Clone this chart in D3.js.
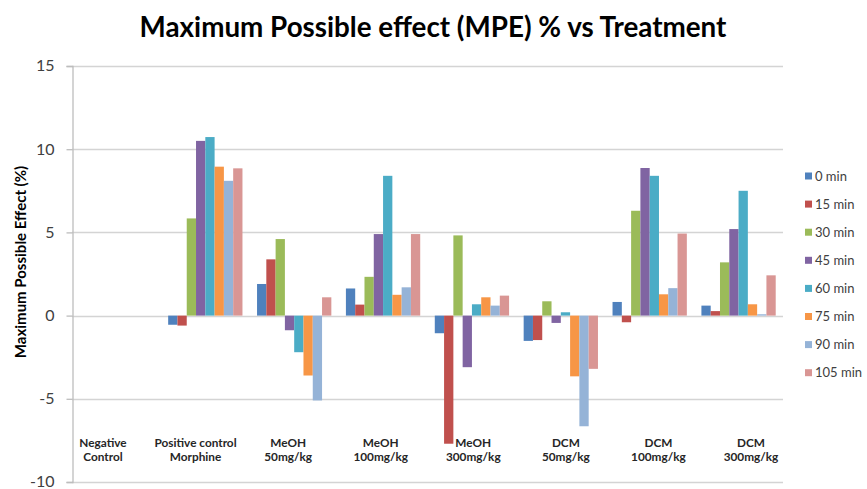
<!DOCTYPE html>
<html>
<head>
<meta charset="utf-8">
<script src="https://cdn.jsdelivr.net/npm/d3@7"></script>
<style>
  html, body { margin: 0; padding: 0; background: #fff; }
  svg { display: block; font-family: Lato, "Open Sans", sans-serif; }
</style>
</head>
<body>
<svg id="chart" width="867" height="489"></svg>
<script>
// ---- data ----
const categories = [
  ["Negative", "Control"],
  ["Positive control", "Morphine"],
  ["MeOH", "50mg/kg"],
  ["MeOH", "100mg/kg"],
  ["MeOH", "300mg/kg"],
  ["DCM", "50mg/kg"],
  ["DCM", "100mg/kg"],
  ["DCM", "300mg/kg"]
];
const seriesNames = ["0 min", "15 min", "30  min", "45 min", "60 min", "75 min", "90 min", "105 min"];
const min0   = [0, -0.55, 1.9, 1.63, -1.06, -1.52, 0.82, 0.6];
const min15  = [0, -0.6, 3.38, 0.66, -7.7, -1.47, -0.4, 0.27];
const min30  = [0, 5.84, 4.6, 2.33, 4.82, 0.86, 6.3, 3.2];
const min45  = [0, 10.5, -0.88, 4.9, -3.1, -0.44, 8.87, 5.2];
const min60  = [0, 10.73, -2.2, 8.4, 0.68, 0.2, 8.4, 7.5];
const min75  = [0, 8.95, -3.6, 1.25, 1.1, -3.65, 1.28, 0.68];
const min90  = [0, 8.1, -5.1, 1.7, 0.6, -6.65, 1.65, 0.08];
const min105 = [0, 8.85, 1.1, 4.9, 1.2, -3.2, 4.93, 2.42];
const seriesValues = [min0, min15, min30, min45, min60, min75, min90, min105];
const yTicks = [-10, -5, 0, 5, 10, 15];
const yTickLabels = ["-10", "-5", "0", "5", "10", "15"];
const colors = ["#4F81BD", "#C0504D", "#9BBB59", "#8064A2", "#4BACC6", "#F79646", "#95B3D7", "#D99694"];
const title = "Maximum Possible effect (MPE) % vs Treatment";
const yTitle = "Maximum Possible Effect (%)";

// ---- layout ----
const svg = d3.select("#chart");
const plot = { left: 72, right: 783, top: 66, bottom: 482 };

const catIdx = categories.map((d, i) => i);
const x0 = d3.scaleBand().domain(catIdx).range([plot.left, plot.right])
  .paddingInner(0.164).paddingOuter(0.082);
const x1 = d3.scaleBand().domain(d3.range(seriesNames.length)).range([0, x0.bandwidth()]);
const y = d3.scaleLinear().domain([-10, 15]).range([plot.bottom, plot.top]);
const color = d3.scaleOrdinal().domain(d3.range(seriesNames.length)).range(colors);

// gridlines
svg.append("g").selectAll("line").data(yTicks).join("line")
  .attr("x1", plot.left).attr("x2", plot.right)
  .attr("y1", d => Math.round(y(d)) + 0.5).attr("y2", d => Math.round(y(d)) + 0.5)
  .attr("stroke", "#D4D4D4").attr("stroke-width", 1.3);

// y axis
const yAxis = d3.axisLeft(y).tickValues(yTicks)
  .tickFormat((d, i) => yTickLabels[i]).tickSize(6).tickPadding(12);
const ga = svg.append("g").attr("transform", `translate(${plot.left + 0.5},0)`).call(yAxis);
ga.select(".domain").attr("stroke", "#BDBDBD").attr("stroke-width", 1.3);
ga.selectAll(".tick line").attr("stroke", "#BDBDBD").attr("stroke-width", 1.3);
ga.selectAll(".tick text").attr("font-family", "Lato, sans-serif").attr("font-size", 16)
  .attr("dy", "0.3em").attr("fill", "#404040");

// bars
const groups = svg.append("g").selectAll("g").data(catIdx).join("g")
  .attr("transform", i => `translate(${x0(i)},0)`);
groups.selectAll("rect")
  .data(i => seriesValues.map((s, k) => ({ k, v: s[i] })))
  .join("rect")
  .attr("x", d => x1(d.k))
  .attr("width", x1.bandwidth())
  .attr("y", d => y(Math.max(0, d.v)))
  .attr("height", d => Math.abs(y(d.v) - y(0)))
  .attr("fill", d => color(d.k));

// category labels (text boxes, slightly wider spacing than the bands)
const xl = d3.scalePoint().domain(catIdx).range([103, 751]);
const lab = svg.append("g").selectAll("text").data(catIdx).join("text")
  .attr("text-anchor", "middle")
  .attr("font-size", 11.8).attr("font-weight", "bold").attr("fill", "#262626");
lab.append("tspan").attr("x", i => xl(i)).attr("y", 447).text(i => categories[i][0]);
lab.append("tspan").attr("x", i => xl(i)).attr("y", 461).text(i => categories[i][1]);

// title
const t = svg.append("text").attr("x", 433).attr("y", 37).attr("text-anchor", "middle")
  .attr("font-weight", "bold").attr("font-size", 26).attr("fill", "#000").text(title);
const w = t.node().getComputedTextLength();
t.attr("font-size", 26 * 587 / w);

// y title
svg.append("text").attr("transform", "translate(26,262) rotate(-90)")
  .attr("text-anchor", "middle").attr("font-size", 15).attr("font-weight", "bold")
  .attr("fill", "#000").text(yTitle);

// legend
const leg = svg.append("g").selectAll("g").data(d3.range(seriesNames.length)).join("g")
  .attr("transform", k => `translate(805,${176 + k * 28.1})`);
leg.append("rect").attr("x", 0).attr("y", -3.5).attr("width", 7).attr("height", 7)
  .attr("fill", k => color(k));
leg.append("text").attr("x", 10).attr("y", 0).attr("dy", "0.35em")
  .attr("font-size", 13).attr("fill", "#404040").text(k => seriesNames[k]);
</script>
</body>
</html>
